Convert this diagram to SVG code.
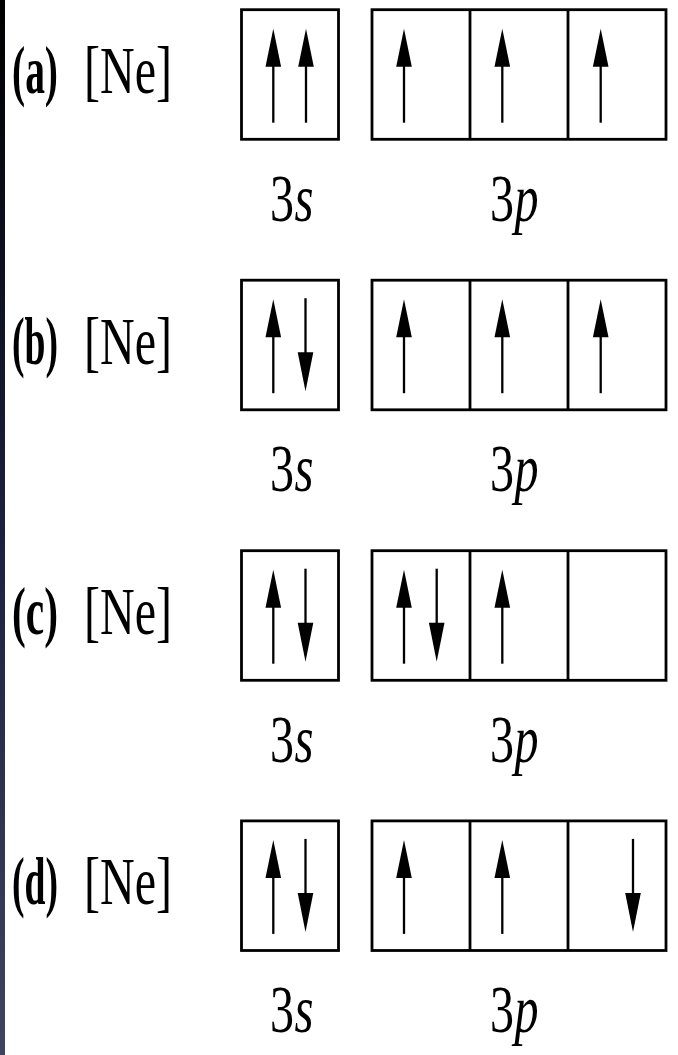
<svg xmlns="http://www.w3.org/2000/svg" xmlns:xlink="http://www.w3.org/1999/xlink" width="678" height="1055" viewBox="0 0 678 1055">
<style>
.box{fill:none;stroke:#000;stroke-width:2.8}
.shaft{stroke:#000;stroke-width:2.3;fill:none}
.head{fill:#000}
</style>
<defs>
<linearGradient id="strip" x1="0" y1="0" x2="0" y2="1">
<stop offset="0" stop-color="#000000"/>
<stop offset="0.5" stop-color="#1c2040"/>
<stop offset="1" stop-color="#3e4462"/>
</linearGradient>
<g id="up"><line class="shaft" x1="0" y1="113" x2="0" y2="52"/><polygon class="head" points="0,19 -7.8,57 7.8,57"/></g>
<g id="down"><line class="shaft" x1="0" y1="18" x2="0" y2="76"/><polygon class="head" points="-7.8,72 7.8,72 0,111"/></g>
</defs>
<rect x="0" y="0" width="678" height="1055" fill="#fff"/>
<rect x="0" y="0" width="5" height="1055" fill="url(#strip)"/>

<g id="label-a"><text x="12" y="93.2" font-family="Liberation Serif" font-size="67" font-weight="bold" textLength="46" lengthAdjust="spacingAndGlyphs">(a)</text><text x="84" y="93.2" font-family="Liberation Serif" font-size="67" textLength="88" lengthAdjust="spacingAndGlyphs">[Ne]</text></g>
<g id="s-a"><rect class="box" x="241.5" y="9.7" width="97" height="129.6"/><use xlink:href="#up" x="273.3" y="9.7"/><use xlink:href="#up" x="306" y="9.7"/><text x="270" y="220.7" font-family="Liberation Serif" font-size="67" textLength="24" lengthAdjust="spacingAndGlyphs">3</text><text x="294.5" y="220.7" font-family="Liberation Serif" font-size="67" font-style="italic" textLength="19" lengthAdjust="spacingAndGlyphs">s</text></g>
<g id="p-a"><rect class="box" x="372" y="9.7" width="294" height="129.6"/><line class="box" x1="470" y1="9.7" x2="470" y2="139.3"/><line class="box" x1="568" y1="9.7" x2="568" y2="139.3"/><use xlink:href="#up" x="404" y="9.7"/><use xlink:href="#up" x="502.3" y="9.7"/><use xlink:href="#up" x="600.7" y="9.7"/><text x="490" y="220.7" font-family="Liberation Serif" font-size="67" textLength="24" lengthAdjust="spacingAndGlyphs">3</text><text x="514.5" y="220.7" font-family="Liberation Serif" font-size="67" font-style="italic" textLength="24" lengthAdjust="spacingAndGlyphs">p</text></g>

<g id="label-b"><text x="12" y="363.7" font-family="Liberation Serif" font-size="67" font-weight="bold" textLength="46" lengthAdjust="spacingAndGlyphs">(b)</text><text x="84" y="363.7" font-family="Liberation Serif" font-size="67" textLength="88" lengthAdjust="spacingAndGlyphs">[Ne]</text></g>
<g id="s-b"><rect class="box" x="241.5" y="280.2" width="97" height="129.6"/><use xlink:href="#up" x="273.3" y="280.2"/><use xlink:href="#down" x="305.5" y="280.2"/><text x="270" y="491.2" font-family="Liberation Serif" font-size="67" textLength="24" lengthAdjust="spacingAndGlyphs">3</text><text x="294.5" y="491.2" font-family="Liberation Serif" font-size="67" font-style="italic" textLength="19" lengthAdjust="spacingAndGlyphs">s</text></g>
<g id="p-b"><rect class="box" x="372" y="280.2" width="294" height="129.6"/><line class="box" x1="470" y1="280.2" x2="470" y2="409.8"/><line class="box" x1="568" y1="280.2" x2="568" y2="409.8"/><use xlink:href="#up" x="404" y="280.2"/><use xlink:href="#up" x="502.3" y="280.2"/><use xlink:href="#up" x="600.7" y="280.2"/><text x="490" y="491.2" font-family="Liberation Serif" font-size="67" textLength="24" lengthAdjust="spacingAndGlyphs">3</text><text x="514.5" y="491.2" font-family="Liberation Serif" font-size="67" font-style="italic" textLength="24" lengthAdjust="spacingAndGlyphs">p</text></g>

<g id="label-c"><text x="12" y="634.2" font-family="Liberation Serif" font-size="67" font-weight="bold" textLength="46" lengthAdjust="spacingAndGlyphs">(c)</text><text x="84" y="634.2" font-family="Liberation Serif" font-size="67" textLength="88" lengthAdjust="spacingAndGlyphs">[Ne]</text></g>
<g id="s-c"><rect class="box" x="241.5" y="550.7" width="97" height="129.6"/><use xlink:href="#up" x="273.3" y="550.7"/><use xlink:href="#down" x="305.5" y="550.7"/><text x="270" y="761.7" font-family="Liberation Serif" font-size="67" textLength="24" lengthAdjust="spacingAndGlyphs">3</text><text x="294.5" y="761.7" font-family="Liberation Serif" font-size="67" font-style="italic" textLength="19" lengthAdjust="spacingAndGlyphs">s</text></g>
<g id="p-c"><rect class="box" x="372" y="550.7" width="294" height="129.6"/><line class="box" x1="470" y1="550.7" x2="470" y2="680.3"/><line class="box" x1="568" y1="550.7" x2="568" y2="680.3"/><use xlink:href="#up" x="404" y="550.7"/><use xlink:href="#down" x="436.7" y="550.7"/><use xlink:href="#up" x="502.3" y="550.7"/><text x="490" y="761.7" font-family="Liberation Serif" font-size="67" textLength="24" lengthAdjust="spacingAndGlyphs">3</text><text x="514.5" y="761.7" font-family="Liberation Serif" font-size="67" font-style="italic" textLength="24" lengthAdjust="spacingAndGlyphs">p</text></g>

<g id="label-d"><text x="12" y="904.4" font-family="Liberation Serif" font-size="67" font-weight="bold" textLength="46" lengthAdjust="spacingAndGlyphs">(d)</text><text x="84" y="904.4" font-family="Liberation Serif" font-size="67" textLength="88" lengthAdjust="spacingAndGlyphs">[Ne]</text></g>
<g id="s-d"><rect class="box" x="241.5" y="820.9" width="97" height="129.6"/><use xlink:href="#up" x="273.3" y="820.9"/><use xlink:href="#down" x="305.5" y="820.9"/><text x="270" y="1031.9" font-family="Liberation Serif" font-size="67" textLength="24" lengthAdjust="spacingAndGlyphs">3</text><text x="294.5" y="1031.9" font-family="Liberation Serif" font-size="67" font-style="italic" textLength="19" lengthAdjust="spacingAndGlyphs">s</text></g>
<g id="p-d"><rect class="box" x="372" y="820.9" width="294" height="129.6"/><line class="box" x1="470" y1="820.9" x2="470" y2="950.5"/><line class="box" x1="568" y1="820.9" x2="568" y2="950.5"/><use xlink:href="#up" x="404" y="820.9"/><use xlink:href="#up" x="502.3" y="820.9"/><use xlink:href="#down" x="633" y="820.9"/><text x="490" y="1031.9" font-family="Liberation Serif" font-size="67" textLength="24" lengthAdjust="spacingAndGlyphs">3</text><text x="514.5" y="1031.9" font-family="Liberation Serif" font-size="67" font-style="italic" textLength="24" lengthAdjust="spacingAndGlyphs">p</text></g>
</svg>
